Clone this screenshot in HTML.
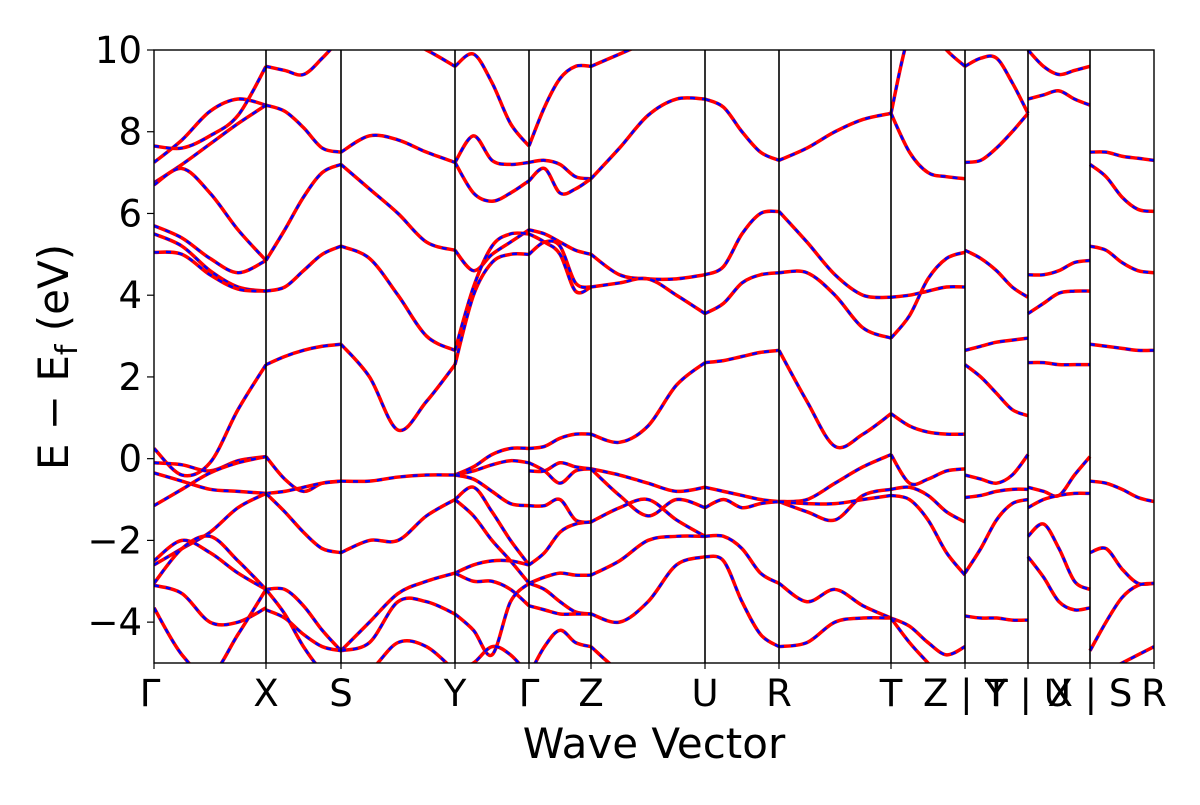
<!DOCTYPE html>
<html><head><meta charset="utf-8"><style>
body{margin:0;background:#fff}
svg text{font-family:"DejaVu Sans","Liberation Sans",sans-serif;fill:#000}
</style></head><body>
<svg id="chart" width="1200" height="800" viewBox="0 0 1200 800" xmlns="http://www.w3.org/2000/svg">
<defs><clipPath id="clip"><rect x="154" y="50" width="1000" height="613"/></clipPath></defs>
<g id="bands" clip-path="url(#clip)"></g>
<g id="axes"></g>
</svg>
<script>
const kPoints=[154,266,341,455,529,591,705,779,891,965,1028,1090,1154];
const kLabels=["Γ","X","S","Y","Γ","Z","U","R","T","Z | Y","T | U","X | S","R"];
const yTicks=[-4,-2,0,2,4,6,8,10];
const yMin=-5,yMax=10;
const seg0=[[7.25,7.8,8.5,8.8,8.65],[7.65,7.6,7.9,8.4,9.6],[6.75,7.2,7.7,8.2,8.65],[6.7,7.1,6.5,5.6,4.85],[5.7,5.4,4.9,4.55,4.85],[5.5,5.2,4.6,4.2,4.1],[5.05,5.0,4.5,4.15,4.1],[0.25,-0.4,-0.1,1.2,2.3],[-0.1,-0.15,-0.3,-0.05,0.05],[-0.35,-0.55,-0.75,-0.8,-0.85],[-1.15,-0.75,-0.35,-0.1,0.05],[-2.6,-2.2,-1.8,-1.2,-0.85],[-2.5,-2.0,-2.3,-2.8,-3.2],[-3.05,-2.2,-1.9,-2.5,-3.2],[-3.1,-3.3,-4.0,-4.0,-3.65],[-3.65,-4.8,-5.3,-4.3,-3.2]];
const seg1=[[9.6,9.5,9.4,9.8,10.3],[8.65,8.5,8.1,7.6,7.5],[4.85,5.6,6.4,7.0,7.2],[4.1,4.2,4.6,5.0,5.2],[2.3,2.5,2.65,2.75,2.8],[0.05,-0.5,-0.8,-0.6,-0.55],[-0.85,-0.8,-0.7,-0.6,-0.55],[-0.85,-1.3,-1.8,-2.2,-2.3],[-3.2,-3.2,-3.6,-4.2,-4.7],[-3.7,-3.9,-4.3,-4.6,-4.7],[-3.2,-3.8,-4.6,-5.2,-5.5]];
const seg2=[[7.5,7.9,7.8,7.5,7.25],[7.2,6.6,6.0,5.3,5.1],[5.2,4.9,4.0,3.0,2.65],[2.8,2.0,0.7,1.4,2.3],[-0.55,-0.55,-0.45,-0.4,-0.4],[-2.3,-2.0,-2.0,-1.4,-1.0],[-4.7,-4.0,-3.3,-3.0,-2.8],[-4.7,-4.5,-3.5,-3.5,-3.8],[-5.5,-5.2,-4.5,-4.6,-5.2],[10.3,10.5,10.3,10.0,9.6]];
const seg3=[[9.6,9.9,9.2,8.2,7.65],[7.25,7.9,7.3,7.2,7.25],[7.25,6.5,6.3,6.5,6.8],[5.1,4.6,5.0,5.3,5.6],[2.65,4.2,5.2,5.5,5.5],[2.3,4.0,4.8,5.0,5.0],[-0.4,-0.3,-0.15,-0.05,-0.1],[-0.4,-0.2,0.1,0.25,0.25],[-0.4,-0.5,-0.8,-1.1,-1.15],[-1.0,-0.7,-1.3,-2.0,-2.6],[-1.0,-1.4,-2.0,-2.5,-3.05],[-2.8,-2.6,-2.5,-2.5,-2.6],[-2.8,-3.0,-3.0,-3.2,-3.6],[-3.8,-4.2,-4.8,-3.5,-3.05],[-5.2,-5.0,-4.6,-4.8,-5.3]];
const seg4=[[7.65,8.6,9.3,9.6,9.6],[7.25,7.3,7.2,6.9,6.85],[6.8,7.1,6.5,6.6,6.85],[5.6,5.5,5.3,5.1,5.0],[5.5,5.3,5.0,4.1,4.2],[5.0,5.3,5.2,4.3,4.2],[0.25,0.3,0.5,0.6,0.6],[-0.1,-0.3,-0.6,-0.3,-0.25],[-0.3,-0.3,-0.1,-0.2,-0.25],[-1.15,-1.15,-1.0,-1.5,-1.55],[-2.6,-2.3,-1.8,-1.6,-1.55],[-3.05,-2.9,-2.8,-2.85,-2.85],[-3.05,-3.2,-3.5,-3.75,-3.8],[-3.6,-3.7,-3.8,-3.8,-3.8],[-5.3,-4.6,-4.2,-4.5,-4.6]];
const seg5=[[9.6,9.9,10.2,10.5,10.8],[6.85,7.6,8.4,8.8,8.8],[5.0,4.5,4.4,4.4,4.5],[4.2,4.3,4.4,4.0,3.55],[0.6,0.4,0.8,1.8,2.35],[-0.25,-0.4,-0.6,-0.8,-0.7],[-0.25,-0.9,-1.4,-1.0,-1.2],[-1.55,-1.2,-1.0,-1.5,-1.9],[-2.85,-2.5,-2.0,-1.9,-1.9],[-3.8,-4.0,-3.5,-2.6,-2.4],[-4.6,-5.2,-5.5,-5.5,-5.5]];
const seg6=[[8.8,8.6,8.0,7.5,7.3],[4.5,4.7,5.5,6.0,6.05],[3.55,3.8,4.3,4.5,4.55],[2.35,2.4,2.5,2.6,2.65],[-0.7,-0.8,-0.9,-1.0,-1.05],[-1.2,-1.0,-1.2,-1.1,-1.05],[-1.9,-1.9,-2.2,-2.8,-3.05],[-2.4,-2.5,-3.5,-4.3,-4.6]];
const seg7=[[7.3,7.6,8.0,8.3,8.45],[6.05,5.3,4.5,4.0,3.95],[4.55,4.55,4.0,3.2,2.95],[2.65,1.4,0.3,0.6,1.1],[-1.05,-1.0,-0.6,-0.2,0.1],[-1.05,-1.3,-1.5,-0.9,-0.75],[-1.05,-1.1,-1.1,-1.0,-0.9],[-3.05,-3.5,-3.2,-3.6,-3.9],[-4.6,-4.5,-4.0,-3.9,-3.9]];
const seg8=[[8.45,10.4,10.6,10.0,9.6],[8.45,7.5,7.0,6.9,6.85],[3.95,4.0,4.1,4.2,4.2],[2.95,3.5,4.4,4.9,5.05],[1.1,0.8,0.65,0.6,0.6],[0.1,-0.6,-0.5,-0.3,-0.25],[-0.75,-0.7,-0.9,-1.3,-1.55],[-0.9,-1.0,-1.5,-2.3,-2.85],[-3.9,-4.1,-4.5,-4.8,-4.6],[-3.9,-4.5,-5.0,-5.5,-5.5]];
const seg9=[[9.6,9.8,9.8,9.2,8.45],[7.25,7.3,7.6,8.0,8.45],[5.1,4.9,4.6,4.2,3.95],[2.65,2.75,2.85,2.9,2.95],[2.3,2.0,1.6,1.2,1.05],[-0.4,-0.5,-0.6,-0.4,0.1],[-0.95,-0.9,-0.8,-0.75,-0.75],[-2.8,-2.2,-1.5,-1.1,-1.0],[-3.85,-3.9,-3.9,-3.95,-3.95]];
const seg10=[[10.0,9.6,9.4,9.5,9.6],[8.8,8.9,9.0,8.8,8.65],[4.5,4.5,4.6,4.8,4.85],[3.55,3.8,4.05,4.1,4.1],[2.35,2.35,2.3,2.3,2.3],[-0.7,-0.8,-0.9,-0.4,0.05],[-1.2,-1.0,-0.9,-0.85,-0.85],[-1.9,-1.6,-2.2,-3.0,-3.2],[-2.4,-2.9,-3.5,-3.7,-3.65]];
const seg11=[[7.5,7.5,7.4,7.35,7.3],[7.2,6.9,6.4,6.1,6.05],[5.2,5.1,4.8,4.6,4.55],[2.8,2.75,2.7,2.65,2.65],[-0.55,-0.6,-0.75,-0.95,-1.05],[-2.3,-2.2,-2.7,-3.05,-3.05],[-4.7,-4.0,-3.4,-3.1,-3.05],[-5.5,-5.2,-5.0,-4.8,-4.6]];
const segments=[seg0,seg1,seg2,seg3,seg4,seg5,seg6,seg7,seg8,seg9,seg10,seg11];

const NS="http://www.w3.org/2000/svg";
const plotTop=50,plotBot=663,plotL=154,plotR=1154;
function yScale(e){return plotBot-(e-yMin)/(yMax-yMin)*(plotBot-plotTop);}
function xScale(seg,i,n){return kPoints[seg]+(kPoints[seg+1]-kPoints[seg])*i/(n-1);}
function pathFor(pts){
  let d="M"+pts[0][0]+","+pts[0][1];
  for(let i=0;i<pts.length-1;i++){
    const p0=pts[Math.max(0,i-1)],p1=pts[i],p2=pts[i+1],p3=pts[Math.min(pts.length-1,i+2)];
    const c1=[p1[0]+(p2[0]-p0[0])/6,p1[1]+(p2[1]-p0[1])/6];
    const c2=[p2[0]-(p3[0]-p1[0])/6,p2[1]-(p3[1]-p1[1])/6];
    d+=" C"+c1[0]+","+c1[1]+" "+c2[0]+","+c2[1]+" "+p2[0]+","+p2[1];
  }
  return d;
}
const gB=document.getElementById("bands");
segments.forEach((seg,s)=>{
  seg.forEach((band,b)=>{
    const pts=band.map((e,i)=>[xScale(s,i,band.length),yScale(e)]);
    const d=pathFor(pts);
    const r=document.createElementNS(NS,"path");
    r.setAttribute("d",d);r.setAttribute("fill","none");r.setAttribute("stroke","#ff0000");r.setAttribute("stroke-width","3.5");
    
    
    gB.appendChild(r);
    const bl=document.createElementNS(NS,"path");
    bl.setAttribute("d",d);bl.setAttribute("fill","none");bl.setAttribute("stroke","#0000ff");bl.setAttribute("stroke-width","2.5");bl.setAttribute("stroke-dasharray","5,7");
    
    
    gB.appendChild(bl);
  });
});
const gA=document.getElementById("axes");
function el(tag,attrs,text){const e=document.createElementNS(NS,tag);for(const k in attrs)e.setAttribute(k,attrs[k]);if(text!==undefined)e.textContent=text;gA.appendChild(e);return e;}
kPoints.forEach((x,i)=>{
  if(i>0&&i<kPoints.length-1){
    const l=el("line",{x1:x,x2:x,y1:plotTop,y2:plotBot,stroke:"#000","stroke-width":1.6});
    
    
  }
  const t=el("line",{x1:x,x2:x,y1:plotBot,y2:plotBot+6,stroke:"#000","stroke-width":1.2});
  
  
  const lab=el("text",{x:(i===0?x-4:x),y:706,"font-size":37,"text-anchor":"middle"},kLabels[i]);
  
  
});
yTicks.forEach(v=>{
  const y=yScale(v);
  const t=el("line",{x1:plotL-7,x2:plotL,y1:y,y2:y,stroke:"#000","stroke-width":1.2});
  
  
  const lab=el("text",{x:plotL-12,y:y+13,"font-size":37,"text-anchor":"end"},(v<0?"\u2212"+(-v):String(v)));
  
  
});
const frame=el("rect",{x:plotL,y:plotTop,width:plotR-plotL,height:plotBot-plotTop,fill:"none",stroke:"#000","stroke-width":1.4});


const xl=el("text",{x:654,y:758,"font-size":42,"text-anchor":"middle"},"Wave Vector");


const yl=el("text",{x:0,y:0,"font-size":42,"text-anchor":"middle",transform:"translate(68,357) rotate(-90)"});


yl.innerHTML='E \u2212 E<tspan font-size="30" dy="9">f</tspan><tspan dy="-9"> (eV)</tspan>';
</script>
</body></html>
